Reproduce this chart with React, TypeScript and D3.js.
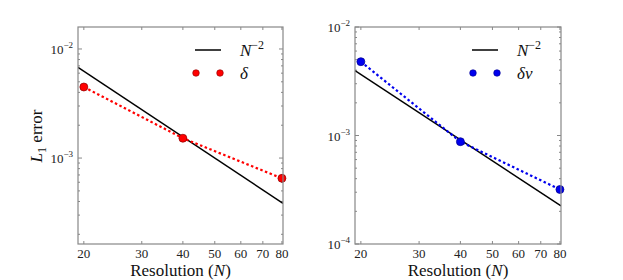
import React from "react";
import * as d3 from "d3";

const resolutions = [20, 40, 80];
const deltaErr = [4.48e-3, 1.52e-3, 6.52e-4];
const deltaVErr = [4.79e-3, 8.77e-4, 3.18e-4];
const refConstLeft = [2.5];
const refConstRight = [1.46];
const xTickValues = [20, 30, 40, 50, 60, 70, 80];
const xDomain = [19.2, 80.6];

const W = 623, H = 280;
const FONT = '"Liberation Serif", serif';
const FRAME = "#888888";
const TS: React.CSSProperties = { fontFamily: FONT };

type PanelProps = {
  x0: number; x1: number; y0: number; y1: number;
  yDomain: [number, number];
  values: number[];
  refC: number;
  color: string;
  stroke: string;
  legendLabel: React.ReactNode;
  legendX: number;
};

function Panel(p: PanelProps) {
  const xs = d3.scaleLog().domain(xDomain).range([p.x0, p.x1]);
  const ys = d3.scaleLog().domain(p.yDomain).range([p.y1, p.y0]);
  const lineGen = d3.line<[number, number]>().x(d => xs(d[0])).y(d => ys(d[1]));
  const refPts: [number, number][] = xDomain.map(n => [n, p.refC * Math.pow(n, -2)] as [number, number]);
  const dataPts: [number, number][] = resolutions.map((n, i) => [n, p.values[i]]);
  const [lo, hi] = p.yDomain;
  const major: number[] = [];
  const minor: number[] = [];
  for (let e = Math.floor(Math.log10(lo)); e <= Math.ceil(Math.log10(hi)); e++) {
    for (let m = 1; m < 10; m++) {
      const v = m * Math.pow(10, e);
      if (v < lo * 0.999 || v > hi * 1.001) continue;
      if (m === 1) major.push(v); else minor.push(v);
    }
  }
  const clipId = `clip-${p.x0}`;
  return (
    <g>
      <defs>
        <clipPath id={clipId}>
          <rect x={p.x0} y={p.y0} width={p.x1 - p.x0} height={p.y1 - p.y0} />
        </clipPath>
      </defs>
      {xTickValues.map(t => (
        <g key={"xt" + t}>
          <line x1={xs(t)} x2={xs(t)} y1={p.y1} y2={p.y1 - 3} stroke={FRAME} />
          <line x1={xs(t)} x2={xs(t)} y1={p.y0} y2={p.y0 + 3} stroke={FRAME} />
          <text x={xs(t)} y={p.y1 + 14} textAnchor="middle" fontSize={13} style={TS} fill="#222">{t}</text>
        </g>
      ))}
      {major.map(v => {
        const e = Math.round(Math.log10(v));
        return (
          <g key={"ym" + v}>
            <line x1={p.x0} x2={p.x0 + 4} y1={ys(v)} y2={ys(v)} stroke={FRAME} />
            <line x1={p.x1} x2={p.x1 - 4} y1={ys(v)} y2={ys(v)} stroke={FRAME} />
            <text x={p.x0 - 5} y={ys(v) + 5} textAnchor="end" fontSize={13} style={TS} fill="#222">
              10<tspan dy={-6} fontSize={9}>{"\u2212" + Math.abs(e)}</tspan>
            </text>
          </g>
        );
      })}
      {minor.map(v => (
        <g key={"yn" + v}>
          <line x1={p.x0} x2={p.x0 + 2} y1={ys(v)} y2={ys(v)} stroke={FRAME} />
          <line x1={p.x1} x2={p.x1 - 2} y1={ys(v)} y2={ys(v)} stroke={FRAME} />
        </g>
      ))}
      <g clipPath={`url(#${clipId})`}>
        <path d={lineGen(refPts) || ""} fill="none" stroke="#000" strokeWidth={1.5} />
        <path d={lineGen(dataPts) || ""} fill="none" stroke={p.color} strokeWidth={2.2} strokeDasharray="2.5,2.5" />
      </g>
      {dataPts.map((d, i) => (
        <circle key={"pt" + i} cx={xs(d[0])} cy={ys(d[1])} r={4} fill={p.color} stroke={p.stroke} strokeWidth={0.7} />
      ))}
      <rect x={p.x0} y={p.y0} width={p.x1 - p.x0} height={p.y1 - p.y0} fill="none" stroke={FRAME} strokeWidth={1.2} />
      <line x1={p.legendX} x2={p.legendX + 26} y1={50} y2={50} stroke="#000" strokeWidth={1.5} />
      <text x={p.legendX + 45} y={56} fontSize={17} style={TS} fontStyle="italic" fill="#111">
        N<tspan dy={-7} fontSize={12} fontStyle="normal">{"\u22122"}</tspan>
      </text>
      <circle cx={p.legendX + 1} cy={73} r={3.3} fill={p.color} stroke={p.stroke} strokeWidth={0.6} />
      <circle cx={p.legendX + 25} cy={73} r={3.3} fill={p.color} stroke={p.stroke} strokeWidth={0.6} />
      <text x={p.legendX + 45} y={79} fontSize={17} style={TS} fontStyle="italic" fill="#111">{p.legendLabel}</text>
      <text x={(p.x0 + p.x1) / 2} y={p.y1 + 32} textAnchor="middle" fontSize={17} style={TS} fill="#111">
        Resolution (<tspan fontStyle="italic">N</tspan>)
      </text>
    </g>
  );
}

export default function App() {
  return (
    <svg width={W} height={H} style={{ display: "block", position: "absolute", left: 0, top: 0, background: "#fff", fontFamily: FONT }}>
      <Panel x0={78} x1={283} y0={27} y1={244} yDomain={[1.63e-4, 1.59e-2]} values={deltaErr} refC={refConstLeft[0]}
        color="#ff0000" stroke="#8b0000" legendLabel={"\u03b4"} legendX={195} />
      <Panel x0={355} x1={561} y0={27} y1={244} yDomain={[1e-4, 1e-2]} values={deltaVErr} refC={refConstRight[0]}
        color="#0000ee" stroke="#00008b" legendLabel={"\u03b4v"} legendX={472} />
      <text transform="translate(42,136) rotate(-90)" textAnchor="middle" fontSize={17} style={TS} fill="#111">
        <tspan fontStyle="italic">L</tspan><tspan dy={4} fontSize={12}>1</tspan><tspan dy={-4}> error</tspan>
      </text>
    </svg>
  );
}
